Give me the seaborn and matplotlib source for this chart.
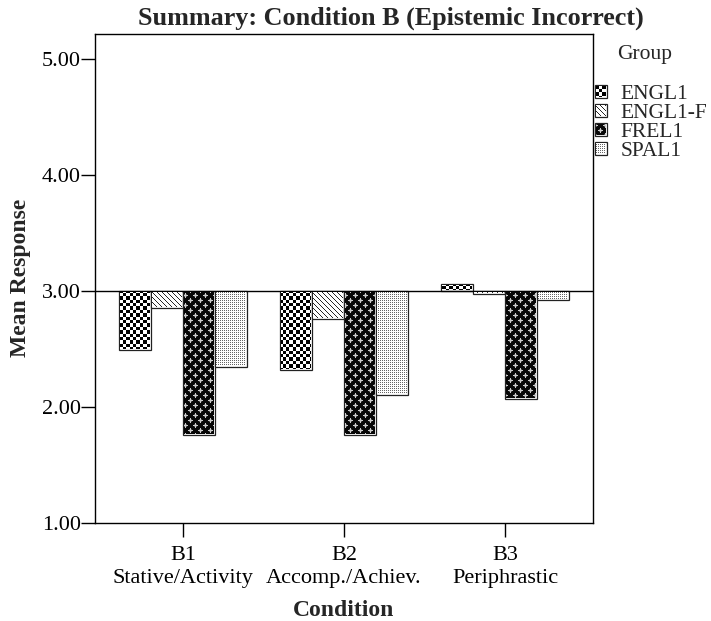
import numpy as np
import pandas as pd
import matplotlib
matplotlib.use("Agg")
import matplotlib.pyplot as plt
import matplotlib.patches as mpatches
import seaborn as sns

# ---------------- data ----------------
conditions = ["B1\nStative/Activity", "B2\nAccomp./Achiev.", "B3\nPeriphrastic"]
groups = ["ENGL1", "ENGL1-F", "FREL1", "SPAL1"]
engl1 = [2.49, 2.32, 3.06]
engl1_f = [2.85, 2.76, 2.97]
frel1 = [1.76, 1.76, 2.07]
spal1 = [2.34, 2.10, 2.92]
baseline = 3.0
y_ticks = [1.0, 2.0, 3.0, 4.0, 5.0]
title = "Summary: Condition B (Epistemic Incorrect)"

sns.set_style("ticks")
plt.rcParams["font.family"] = ["Liberation Serif", "DejaVu Serif"]

rows = []
for g, vals in zip(groups, [engl1, engl1_f, frel1, spal1]):
    for c, v in zip(conditions, vals):
        rows.append(dict(condition=c, group=g, mean=v))
df = pd.DataFrame(rows)
df["delta"] = df["mean"] - baseline

W, H = 711, 621
fig = plt.figure(figsize=(W / 100, H / 100), dpi=100)
ax = fig.add_axes([95 / W, 1 - 522.7 / H, (593 - 95) / W, (522.7 - 34) / H])

sns.barplot(data=df, x="condition", y="delta", hue="group", order=conditions,
            hue_order=groups, errorbar=None, width=0.8, bottom=baseline,
            palette=["white"] * 4, saturation=1, edgecolor="#222222",
            linewidth=0.9, legend=False, ax=ax, zorder=3)

ax.axhline(baseline, color="black", lw=1.0, zorder=4)
ax.set_xlim(-0.547, 2.547)
ax.set_ylim(1, 5.213)
ax.set_yticks(y_ticks)
ax.set_yticklabels([f"{t:.2f}" for t in y_ticks])
ax.tick_params(axis="both", direction="out", length=10, width=1.0,
               colors="black", labelsize=16)
ax.tick_params(axis="y", pad=0)
ax.tick_params(axis="x", pad=6.5)
for t in ax.get_xticklabels():
    t.set_linespacing(1.3)
for s in ax.spines.values():
    s.set_visible(True)
    s.set_color("black")
    s.set_linewidth(1.0)

ax.set_xlabel("Condition", fontsize=17, fontweight="bold")
ax.set_ylabel("Mean Response", fontsize=17, fontweight="bold")
ax.xaxis.set_label_coords(0.5, -(600 - 522.7) / 488.7)
ax.yaxis.set_label_coords((31 - 95) / 498, 0.5)
fig.text(391 / W, 1 - 18 / H, title, ha="center", va="center",
         fontsize=18.8, fontweight="bold")

handles = [mpatches.Patch(facecolor="white", edgecolor="#222222", linewidth=0.9)
           for _ in groups]
leg = ax.legend(handles, groups, loc="upper left",
                bbox_to_anchor=(595 / W, 1 - 85 / H), bbox_transform=fig.transFigure,
                frameon=False, fontsize=15.5,
                handlelength=0.55, handleheight=0.55, handletextpad=0.65,
                labelspacing=0.0, borderpad=0, borderaxespad=0)
fig.text(645 / W, 1 - 55 / H, "Group", ha="center", va="center", fontsize=15.5)


# ---------------- fill textures (style only) ----------------
def texture(kind, X, Y):
    if kind == 0:  # checkerboard
        return ((np.floor(X / 3.4) + np.floor(Y / 3.4)) % 2).astype(float)
    if kind == 1:  # backslash diagonals
        d = np.mod(X - Y, 5)
        return np.where(d < 1, 0.15, 1.0)
    if kind == 2:  # black with light plus signs
        v = np.full(X.shape, 0.03)
        for ox, oy in [(0, 0), (5, 5)]:
            dx = np.abs(np.mod(X - ox + 5, 10) - 5)
            dy = np.abs(np.mod(Y - oy + 5, 10) - 5)
            halo = (dx <= 1) & (dy <= 1)
            v = np.where(halo, np.maximum(v, 0.35), v)
            plus = ((dx == 0) & (dy <= 2)) | ((dy == 0) & (dx <= 2))
            v = np.where(plus, 0.8, v)
        return v
    # fine dots
    return np.where((np.mod(X, 2) == 0) & (np.mod(Y, 2) == 0), 0.4, 1.0)


def paint(patch, kind, renderer):
    bb = patch.get_window_extent(renderer)
    x0 = int(round(bb.x0)) + 1
    x1 = int(round(bb.x1)) - 1
    y0 = int(round(bb.y0)) + 1
    y1 = int(round(bb.y1)) - 1
    if x1 <= x0 or y1 <= y0:
        return
    xs = np.arange(x0, x1)
    ys = H - 1 - np.arange(y1 - 1, y0 - 1, -1)
    X, Y = np.meshgrid(xs, ys)
    arr = texture(kind, X, Y)
    fig.figimage(arr, xo=x0, yo=y0, origin="upper", cmap="gray",
                 vmin=0, vmax=1, zorder=5)


fig.canvas.draw()
renderer = fig.canvas.get_renderer()
for k, cont in enumerate(ax.containers):
    for p in cont.patches:
        paint(p, k, renderer)
for k, p in enumerate(leg.get_patches()):
    paint(p, k, renderer)

fig.savefig("out.png", dpi=100)
